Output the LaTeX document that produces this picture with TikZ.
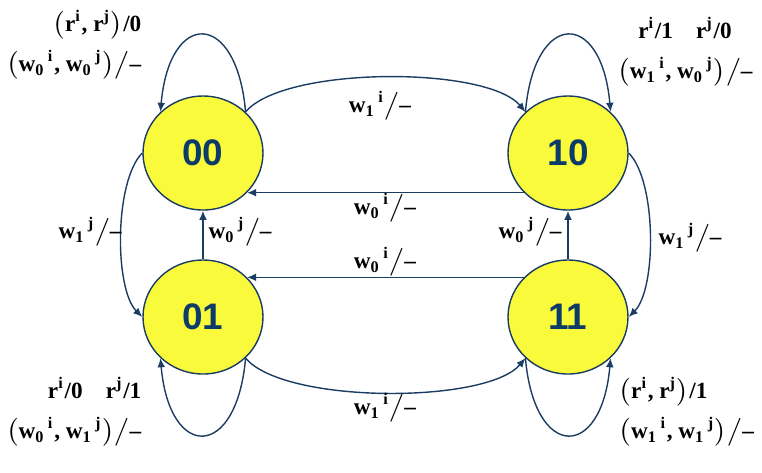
\documentclass[tikz,border=0pt]{standalone}
\usepackage{amsmath}
\usepackage{fontspec}
\setmainfont{Liberation Serif}
\setsansfont{Liberation Sans}
\usetikzlibrary{shapes.geometric,arrows.meta}

\definecolor{stateyellow}{HTML}{FAFA3C}
\definecolor{linenavy}{HTML}{1B3D63}
\definecolor{textnavy}{HTML}{0B3B66}

\newcommand{\wv}[2]{w\textsubscript{#1}\textsuperscript{\,#2}}
\newcommand{\rv}[1]{r\textsuperscript{#1}}
\newcommand{\nout}{$\big/$--}

\tikzset{
  state/.style={ellipse, draw=linenavy, fill=stateyellow, line width=0.4pt,
    minimum width=1.2cm, minimum height=1.14cm, inner sep=0pt,
    font=\fontsize{10.5}{12}\sffamily\bfseries, text=textnavy},
  trans/.style={draw=linenavy, line width=0.4pt, -{Latex[length=2.6pt,width=2.2pt]}},
  lbl/.style={font=\fontsize{6.6}{11.4}\selectfont\bfseries, inner sep=0pt}
}

\begin{document}
\begin{tikzpicture}
\useasboundingbox (0,0) rectangle (7.62,4.72);

\node[state] (s00) at (2.03,3.19) {00};
\node[state] (s10) at (5.68,3.19) {10};
\node[state] (s01) at (2.03,1.55) {01};
\node[state] (s11) at (5.68,1.55) {11};

% self loops
\draw[trans] (s00.44) to[out=95,in=85,looseness=3.1] (s00.136);
\draw[trans] (s10.136) to[out=85,in=95,looseness=3.1] (s10.44);
\draw[trans] (s01.316) to[out=-95,in=-85,looseness=3.1] (s01.224);
\draw[trans] (s11.224) to[out=-85,in=-95,looseness=3.1] (s11.316);

% transitions between states
\draw[trans] (s00.44) to[out=50,in=130,looseness=0.55] (s10.136);
\draw[trans] (s01.316) to[out=-50,in=-130,looseness=0.55] (s11.224);
\draw[trans] (s10.222) -- (s00.318);
\draw[trans] (s11.138) -- (s01.42);
\draw[trans] (s01.north) -- (s00.south);
\draw[trans] (s11.north) -- (s10.south);
\draw[trans] (s00.west) to[out=225,in=135,looseness=0.62] (s01.west);
\draw[trans] (s10.east) to[out=-45,in=45,looseness=0.62] (s11.east);

% labels
\node[lbl] (l0010) at (3.80,3.66) {\wv{1}{i}\nout};
\node[lbl] (l1000) at (3.85,2.64) {\wv{0}{i}\nout};
\node[lbl] (l1101) at (3.85,2.10) {\wv{0}{i}\nout};
\node[lbl] (l0111) at (3.85,0.64) {\wv{1}{i}\nout};
\node[lbl] (l0100) at (2.40,2.40) {\wv{0}{j}\nout};
\node[lbl] (l1110) at (5.30,2.40) {\wv{0}{j}\nout};
\node[lbl] (l0001) at (0.90,2.40) {\wv{1}{j}\nout};
\node[lbl] (l1011) at (6.90,2.34) {\wv{1}{j}\nout};

\node[lbl, align=right, anchor=east] (c00) at (1.42,4.27)
  {$\bigl($\rv{i}, \rv{j}$\bigr)$/0\\
   $\bigl($\wv{0}{i}, \wv{0}{j}$\bigr)$\nout};
\node[lbl, align=center] (c10) at (6.85,4.20)
  {\rv{i}/1\quad \rv{j}/0\\
   $\bigl($\wv{1}{i}, \wv{0}{j}$\bigr)$\nout};
\node[lbl, align=right, anchor=east] (c01) at (1.42,0.60)
  {\rv{i}/0\quad \rv{j}/1\\
   $\bigl($\wv{0}{i}, \wv{1}{j}$\bigr)$\nout};
\node[lbl, align=left, anchor=west] (c11) at (6.18,0.60)
  {$\bigl($\rv{i}, \rv{j}$\bigr)$/1\\
   $\bigl($\wv{1}{i}, \wv{1}{j}$\bigr)$\nout};
\end{tikzpicture}
\end{document}
